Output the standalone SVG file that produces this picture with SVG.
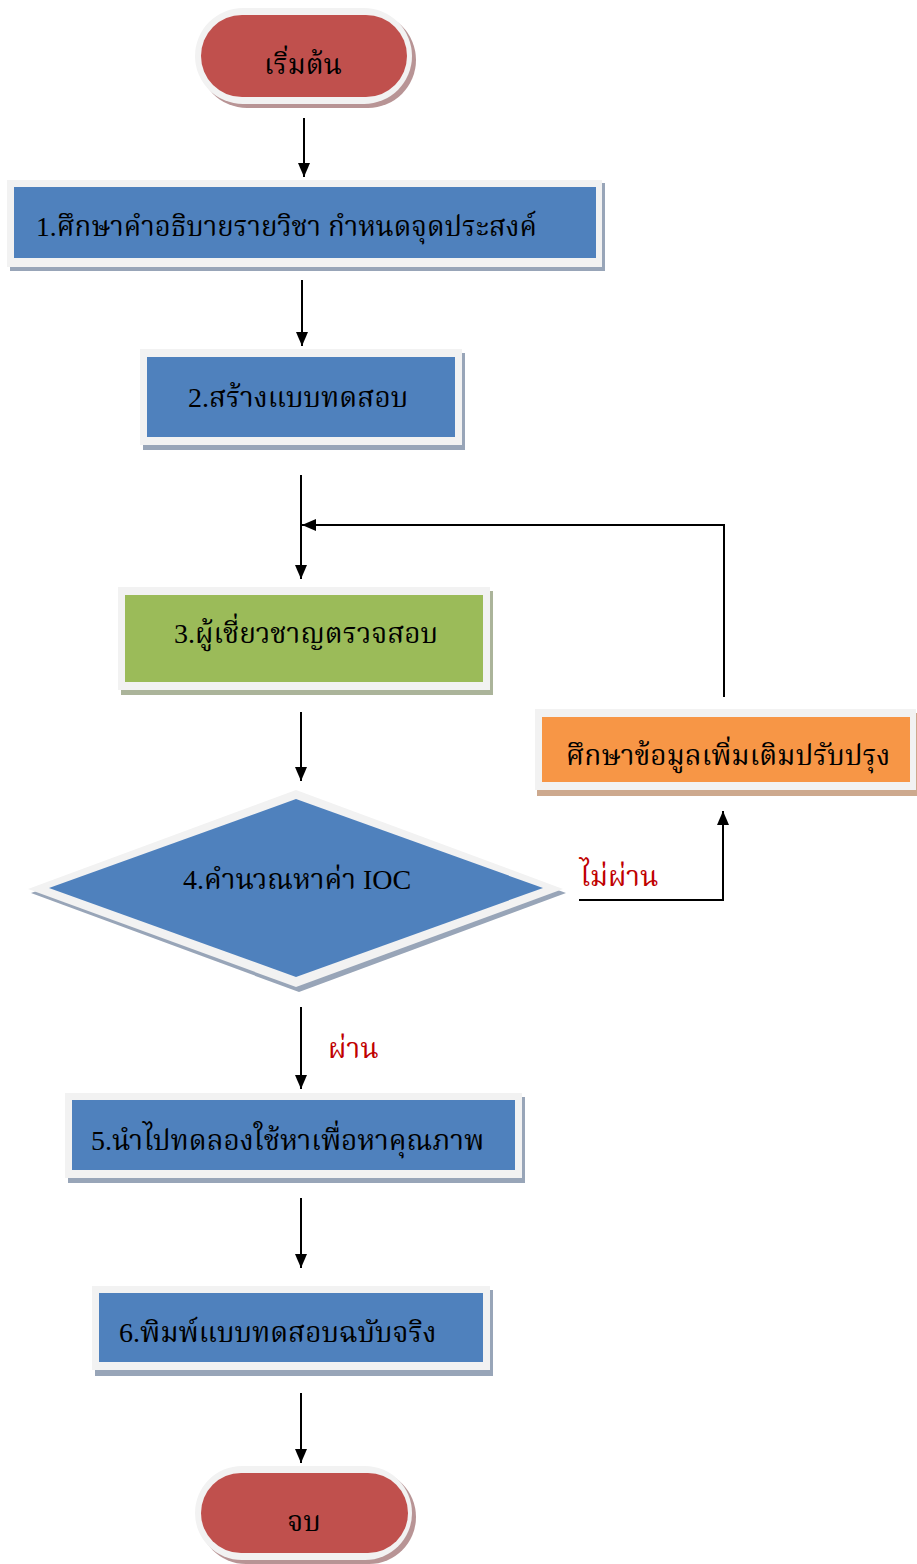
<svg xmlns="http://www.w3.org/2000/svg" width="917" height="1564" viewBox="0 0 917 1564">
<defs>
<style>
.frame{fill:#F2F2F2}
.blue{fill:#4F81BD}
.green{fill:#9BBB59}
.orange{fill:#F79646}
.red{fill:#C0504D}
.sh-blue{fill:#98A5B8}
.sh-green{fill:#ABB49A}
.sh-orange{fill:#CDA98E}
.sh-red{fill:#B89495}
.t{font-family:"Liberation Serif","Noto Serif Thai","Noto Sans Thai",serif;font-size:28px;fill:#000}
.lbl{font-family:"Liberation Serif","Noto Serif Thai","Noto Sans Thai",serif;font-size:28px;fill:#C00000}
.ln{stroke:#000;stroke-width:2;fill:none}
</style>
<marker id="ah" viewBox="0 0 14 12" refX="14" refY="6" markerWidth="14" markerHeight="12" orient="auto" markerUnits="userSpaceOnUse">
<path d="M0,0 L14,6 L0,12 z" fill="#000"/>
</marker>
</defs>
<rect width="917" height="1564" fill="#fff"/>

<g id="start">
<rect class="sh-red" x="199" y="12" width="217" height="96" rx="48"/>
<rect class="frame" x="195" y="8" width="217" height="96" rx="48"/>
<rect class="red" x="201" y="15" width="206" height="82" rx="41"/>
<text class="t" x="303" y="74" text-anchor="middle">เริ่มต้น</text>
</g>

<g id="step1">
<rect class="sh-blue" x="10" y="183" width="595" height="88"/>
<rect class="frame" x="7" y="180" width="595" height="87"/>
<rect class="blue" x="14" y="187" width="582" height="71"/>
<text class="t" x="36" y="236" textLength="501" lengthAdjust="spacingAndGlyphs">1.ศึกษาคำอธิบายรายวิชา กำหนดจุดประสงค์</text>
</g>

<g id="step2">
<rect class="sh-blue" x="143" y="353" width="322" height="97"/>
<rect class="frame" x="140" y="349" width="322" height="96"/>
<rect class="blue" x="147" y="357" width="308" height="80"/>
<text class="t" x="188" y="407">2.สร้างแบบทดสอบ</text>
</g>

<g id="step3">
<rect class="sh-green" x="121" y="591" width="372" height="104"/>
<rect class="frame" x="118" y="587" width="372" height="103"/>
<rect class="green" x="125" y="595" width="358" height="87"/>
<text class="t" x="174" y="643">3.ผู้เชี่ยวชาญตรวจสอบ</text>
</g>

<g id="revise">
<rect class="sh-orange" x="537" y="713" width="380" height="83"/>
<rect class="frame" x="535" y="709" width="381" height="81"/>
<rect class="orange" x="542" y="717" width="368" height="65"/>
<text class="t" x="566" y="765">ศึกษาข้อมูลเพิ่มเติมปรับปรุง</text>
</g>

<g id="step4">
<polygon class="sh-blue" points="299,795 566,893 299,992 31,893"/>
<polygon class="frame" points="296,790 563,889 296,987 28,889"/>
<polygon class="blue" points="296,799 543,888 296,977 49,888"/>
<text class="t" x="183" y="889">4.คำนวณหาค่า IOC</text>
</g>

<g id="step5">
<rect class="sh-blue" x="68" y="1097" width="457" height="86"/>
<rect class="frame" x="65" y="1093" width="457" height="85"/>
<rect class="blue" x="72" y="1100" width="443" height="70"/>
<text class="t" x="91" y="1150">5.นำไปทดลองใช้หาเพื่อหาคุณภาพ</text>
</g>

<g id="step6">
<rect class="sh-blue" x="95" y="1290" width="398" height="86"/>
<rect class="frame" x="92" y="1286" width="398" height="84"/>
<rect class="blue" x="99" y="1293" width="384" height="69"/>
<text class="t" x="119" y="1342">6.พิมพ์แบบทดสอบฉบับจริง</text>
</g>

<g id="end">
<rect class="sh-red" x="199" y="1470" width="217" height="94" rx="47"/>
<rect class="frame" x="195" y="1466" width="217" height="94" rx="47"/>
<rect class="red" x="201" y="1473" width="207" height="80" rx="40"/>
<text class="t" x="304" y="1531" text-anchor="middle">จบ</text>
</g>

<g id="connectors">
<line class="ln" x1="304" y1="118" x2="304" y2="177" marker-end="url(#ah)"/>
<line class="ln" x1="302" y1="280" x2="302" y2="346" marker-end="url(#ah)"/>
<line class="ln" x1="301" y1="475" x2="301" y2="579" marker-end="url(#ah)"/>
<polyline class="ln" points="724,697 724,525 302,525" marker-end="url(#ah)"/>
<line class="ln" x1="301" y1="712" x2="301" y2="781" marker-end="url(#ah)"/>
<polyline class="ln" points="579,900 723,900 723,811" marker-end="url(#ah)"/>
<line class="ln" x1="301" y1="1007" x2="301" y2="1089" marker-end="url(#ah)"/>
<line class="ln" x1="301" y1="1198" x2="301" y2="1268" marker-end="url(#ah)"/>
<line class="ln" x1="301" y1="1393" x2="301" y2="1463" marker-end="url(#ah)"/>
<text class="lbl" x="580" y="886">ไม่ผ่าน</text>
<text class="lbl" x="328" y="1058">ผ่าน</text>
</g>
</svg>
